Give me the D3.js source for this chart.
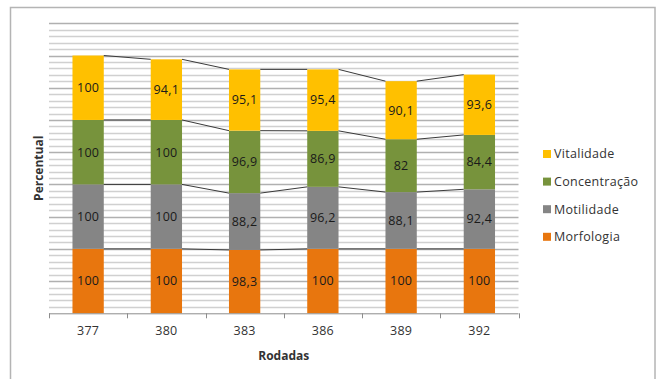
<!DOCTYPE html>
<html>
<head>
<meta charset="utf-8">
<script src="https://cdn.jsdelivr.net/npm/d3@7"></script>
<style>
  html, body { margin: 0; padding: 0; background: #fff; }
  svg { display: block; }
  text { font-family: "Open Sans", "DejaVu Sans", sans-serif; }
</style>
</head>
<body>
<svg id="chart" width="657" height="379"></svg>
<script>
// Rounds (x categories)
const rodadas = ["377", "380", "383", "386", "389", "392"];

// Series, bottom to top of each stack
const seriesNames = ["Morfologia", "Motilidade", "Concentração", "Vitalidade"];
const morfologia   = [100, 100, 98.3, 100, 100, 100];
const motilidade   = [100, 100, 88.2, 96.2, 88.1, 92.4];
const concentracao = [100, 100, 96.9, 86.9, 82, 84.4];
const vitalidade   = [100, 94.1, 95.1, 95.4, 90.1, 93.6];
const seriesColors = ["#E8760E", "#858585", "#77933C", "#FFC000"];

// Value axis range and gridline steps
const yMax = 450;
const majorStep = 50;
const minorStep = 10;

const rows = rodadas.map((r, i) => ({
  rodada: r,
  "Morfologia": morfologia[i],
  "Motilidade": motilidade[i],
  "Concentração": concentracao[i],
  "Vitalidade": vitalidade[i]
}));
const stacked = d3.stack().keys(seriesNames)(rows);

const svg = d3.select("#chart");

// chart border
svg.append("rect")
  .attr("x", 10.5).attr("y", 7.5)
  .attr("width", 644.5).attr("height", 380)
  .attr("fill", "#fff").attr("stroke", "#b4b4b4").attr("stroke-width", 1.5);

const plot = { left: 49, right: 518.5, top: 23.3, bottom: 313.3 };

const x = d3.scaleBand().domain(rodadas)
  .range([plot.left, plot.right]).paddingInner(0.6).paddingOuter(0.3);
const y = d3.scaleLinear().domain([0, yMax]).range([plot.bottom, plot.top]);

// gridlines
const g = svg.append("g");
g.selectAll("line.minor")
  .data(d3.range(minorStep, yMax + 0.01, minorStep).filter(v => v % majorStep !== 0))
  .join("line")
  .attr("x1", plot.left).attr("x2", plot.right)
  .attr("y1", d => Math.round(y(d)) + 0.5).attr("y2", d => Math.round(y(d)) + 0.5)
  .attr("stroke", "#d0d0d0").attr("stroke-width", 1.3);
g.selectAll("line.major")
  .data(d3.range(majorStep, yMax + 0.01, majorStep))
  .join("line")
  .attr("x1", plot.left).attr("x2", plot.right)
  .attr("y1", d => Math.round(y(d)) + 0.5).attr("y2", d => Math.round(y(d)) + 0.5)
  .attr("stroke", "#b0b0b0").attr("stroke-width", 1.3);

// bars
const layers = svg.append("g").selectAll("g")
  .data(stacked).join("g")
  .attr("fill", (d, i) => seriesColors[i]);
layers.selectAll("rect")
  .data(d => d).join("rect")
  .attr("x", d => x(d.data.rodada))
  .attr("y", d => y(d[1]))
  .attr("width", x.bandwidth())
  .attr("height", d => y(d[0]) - y(d[1]));

// series lines between adjacent bars
const sl = svg.append("g").attr("stroke", "#3a3a3a").attr("stroke-width", 1).attr("fill", "none");
stacked.forEach(layer => {
  for (let i = 0; i < layer.length - 1; i++) {
    sl.append("line")
      .attr("x1", x(rodadas[i]) + x.bandwidth())
      .attr("y1", y(layer[i][1]))
      .attr("x2", x(rodadas[i + 1]))
      .attr("y2", y(layer[i + 1][1]));
  }
});

// value labels
const fmt = v => String(v).replace(".", ",");
const lab = svg.append("g").attr("font-size", 12.5).attr("letter-spacing", 0.3)
  .attr("fill", "#1a1a1a").attr("text-anchor", "middle");
stacked.forEach(layer => {
  layer.forEach(d => {
    lab.append("text")
      .attr("x", x(d.data.rodada) + x.bandwidth() / 2)
      .attr("y", (y(d[0]) + y(d[1])) / 2)
      .attr("dy", "0.35em")
      .text(fmt(d.data[layer.key]));
  });
});

// category axis
const xAxis = d3.axisBottom(x).tickSize(0).tickPadding(13);
const ax = svg.append("g").attr("transform", `translate(0,${plot.bottom})`).call(xAxis);
ax.select(".domain").remove();
ax.selectAll("text").attr("font-size", 12.5).attr("letter-spacing", 0.3).attr("fill", "#333")
  .attr("font-family", "'Open Sans', 'DejaVu Sans', sans-serif");
svg.append("line")
  .attr("x1", plot.left).attr("x2", plot.right)
  .attr("y1", plot.bottom + 0.5).attr("y2", plot.bottom + 0.5)
  .attr("stroke", "#8c8c8c").attr("stroke-width", 1);
const bounds = rodadas.map(r => x(r) - x.step() * x.paddingInner() / 2);
bounds.push(plot.right);
bounds[0] = plot.left;
svg.append("g").selectAll("line").data(bounds).join("line")
  .attr("x1", d => Math.round(d) + 0.5).attr("x2", d => Math.round(d) + 0.5)
  .attr("y1", plot.bottom).attr("y2", plot.bottom + 5)
  .attr("stroke", "#8c8c8c").attr("stroke-width", 1);

// axis titles
svg.append("text")
  .attr("x", (plot.left + plot.right) / 2).attr("y", 360)
  .attr("text-anchor", "middle").attr("font-size", 12).attr("font-weight", "bold").attr("fill", "#333")
  .text("Rodadas");
svg.append("text")
  .attr("transform", `translate(43,${(plot.top + plot.bottom) / 2}) rotate(-90)`)
  .attr("text-anchor", "middle").attr("font-size", 12).attr("font-weight", "bold").attr("fill", "#333")
  .text("Percentual");

// legend (top series first)
const legendOrder = seriesNames.slice().reverse();
const lg = svg.append("g").attr("transform", "translate(543,150)");
legendOrder.forEach((name, i) => {
  const row = lg.append("g").attr("transform", `translate(0,${i * 27.6})`);
  row.append("rect").attr("width", 8).attr("height", 8)
    .attr("fill", seriesColors[seriesNames.indexOf(name)]);
  row.append("text").attr("x", 11).attr("y", 4).attr("dy", "0.35em")
    .attr("font-size", 12.5).attr("letter-spacing", 0.3).attr("fill", "#333").text(name);
});
</script>
</body>
</html>
